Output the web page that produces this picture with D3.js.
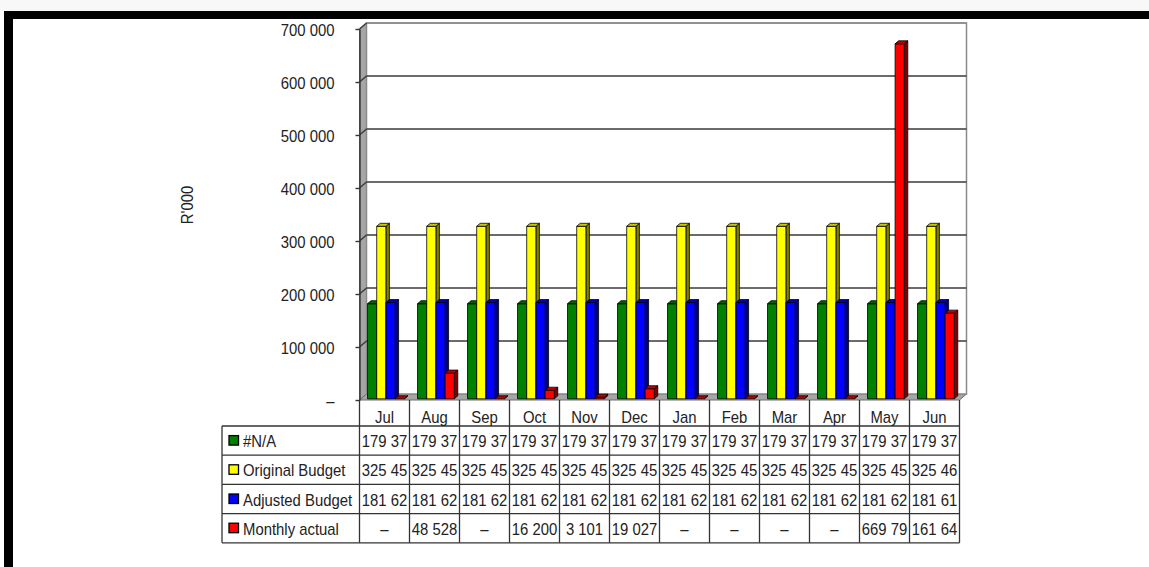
<!DOCTYPE html>
<html>
<head>
<meta charset="utf-8">
<script src="https://cdnjs.cloudflare.com/ajax/libs/d3/7.8.5/d3.min.js"></script>
<style>
  html, body { margin: 0; padding: 0; background: #ffffff; }
  svg { display: block; font-family: "Liberation Sans", Arial, sans-serif; }
</style>
</head>
<body>
<svg id="chart" width="1149" height="567"></svg>
<script>
// ---------- DATA ----------
const months = ["Jul", "Aug", "Sep", "Oct", "Nov", "Dec", "Jan", "Feb", "Mar", "Apr", "May", "Jun"];
const seriesNames = ["#N/A", "Original Budget", "Adjusted Budget", "Monthly actual"];

const naValues       = [179375, 179375, 179375, 179375, 179375, 179375, 179375, 179375, 179375, 179375, 179375, 179375];
const originalBudget = [325450, 325450, 325450, 325450, 325450, 325450, 325450, 325450, 325450, 325450, 325450, 325460];
const adjustedBudget = [181620, 181620, 181620, 181620, 181620, 181620, 181620, 181620, 181620, 181620, 181620, 181610];
const monthlyActual  = [0, 48528, 0, 16200, 3101, 19027, 0, 0, 0, 0, 669790, 161640];

// Text as shown in the data table
const naText       = ["179 37", "179 37", "179 37", "179 37", "179 37", "179 37", "179 37", "179 37", "179 37", "179 37", "179 37", "179 37"];
const originalText = ["325 45", "325 45", "325 45", "325 45", "325 45", "325 45", "325 45", "325 45", "325 45", "325 45", "325 45", "325 46"];
const adjustedText = ["181 62", "181 62", "181 62", "181 62", "181 62", "181 62", "181 62", "181 62", "181 62", "181 62", "181 62", "181 61"];
const actualText   = ["–", "48 528", "–", "16 200", "3 101", "19 027", "–", "–", "–", "–", "669 79", "161 64"];

const yTicks      = [0, 100000, 200000, 300000, 400000, 500000, 600000, 700000];
const yTickLabels = ["–", "100 000", "200 000", "300 000", "400 000", "500 000", "600 000", "700 000"];
const yAxisTitle  = "R'000";

// ---------- STYLE ----------
const colors = {
  front: ["#008000", "#ffff00", "#0000ff", "#ff0000"],
  top:   ["#006000", "#c8c800", "#0000c0", "#c00000"],
  side:  ["#004000", "#808000", "#000080", "#800000"]
};
const seriesValues = [naValues, originalBudget, adjustedBudget, monthlyActual];
const tableText = [naText, originalText, adjustedText, actualText];

const svg = d3.select("#chart");

// frame
svg.append("rect").attr("x", 0).attr("y", 0).attr("width", 1149).attr("height", 11).attr("fill", "#f8f8f8");
svg.append("rect").attr("x", 4).attr("y", 11).attr("width", 1145).attr("height", 8).attr("fill", "#000");
svg.append("rect").attr("x", 4).attr("y", 11).attr("width", 9).attr("height", 556).attr("fill", "#000");

// ---------- SCALES ----------
const x0 = d3.scaleBand().domain(months).range([359.5, 959.5]).paddingInner(0).paddingOuter(0);
const x1 = d3.scaleBand().domain(d3.range(seriesNames.length)).range([0, x0.bandwidth()])
  .paddingInner(0).paddingOuter(0.72);
const y = d3.scaleLinear().domain([0, 700000]).range([400, 29]);

const DX = 7, DY = -6;          // wall depth
const bF = 0.2, bB = 0.7;       // bar front/back depth fractions

const SX = 0.93;                // horizontal text compression
const textColor = "#222";

// ---------- WALLS ----------
const left = x0.range()[0], right = x0.range()[1];
const y0 = y(0), yTop = y(700000);

// left wall
svg.append("path")
  .attr("d", `M${left},${yTop} L${left + DX},${yTop + DY} L${left + DX},${y0 + DY} L${left},${y0} Z`)
  .attr("fill", "#a6a6a6").attr("stroke", "#6e6e6e").attr("stroke-width", 1);
// floor
svg.append("path")
  .attr("d", `M${left},${y0} L${left + DX},${y0 + DY} L${right + DX},${y0 + DY} L${right},${y0} Z`)
  .attr("fill", "#a6a6a6").attr("stroke", "#6e6e6e").attr("stroke-width", 1);
// back wall
svg.append("rect")
  .attr("x", left + DX).attr("y", yTop + DY)
  .attr("width", right - left).attr("height", y0 - yTop)
  .attr("fill", "#ffffff").attr("stroke", "#8a8a8a").attr("stroke-width", 1.5);

// gridlines
const grid = svg.append("g");
yTicks.filter(v => v > 0).forEach(v => {
  grid.append("line")
    .attr("x1", left + DX).attr("x2", right + DX)
    .attr("y1", y(v) + DY).attr("y2", y(v) + DY)
    .attr("stroke", v === 700000 ? "#8a8a8a" : "#3a3a3a").attr("stroke-width", 1.4);
  grid.append("line")
    .attr("x1", left).attr("x2", left + DX)
    .attr("y1", y(v)).attr("y2", y(v) + DY)
    .attr("stroke", "#3a3a3a").attr("stroke-width", 1.4);
});

// ---------- BARS ----------
const bars = svg.append("g");
months.forEach((m, i) => {
  seriesValues.forEach((vals, s) => {
    const v = vals[i];
    const xa = x0(m) + x1(s) + DX * bF;
    const xb = xa + x1.bandwidth();
    const base = y(0) + DY * bF;
    const topY = y(v) + DY * bF;
    const ddx = DX * (bB - bF), ddy = DY * (bB - bF);
    const g = bars.append("g").attr("stroke", "#000").attr("stroke-width", 0.8).attr("stroke-linejoin", "round");
    // side
    g.append("path")
      .attr("d", `M${xb},${base} L${xb + ddx},${base + ddy} L${xb + ddx},${topY + ddy} L${xb},${topY} Z`)
      .attr("fill", colors.side[s]);
    // front
    g.append("rect").attr("x", xa).attr("y", topY).attr("width", xb - xa).attr("height", base - topY)
      .attr("fill", colors.front[s]);
    // top
    g.append("path")
      .attr("d", `M${xa},${topY} L${xa + ddx},${topY + ddy} L${xb + ddx},${topY + ddy} L${xb},${topY} Z`)
      .attr("fill", colors.top[s]);
  });
});

// ---------- Y AXIS ----------
const axisG = svg.append("g").attr("transform", `translate(${left},0)`)
  .call(d3.axisLeft(y).tickValues(yTicks).tickSizeInner(4).tickSizeOuter(0)
    .tickPadding(25 / SX - 4)
    .tickFormat((d, i) => yTickLabels[i]));
axisG.select(".domain").attr("stroke", "#333").attr("stroke-width", 1.4);
axisG.selectAll(".tick line").attr("stroke", "#333").attr("stroke-width", 1.4);
axisG.selectAll(".tick text")
  .attr("font-size", 16).attr("fill", textColor)
  .attr("font-family", "'Liberation Sans', Arial, sans-serif")
  .attr("dy", "0.42em")
  .attr("transform", `scale(${SX},1)`);

// axis title
svg.append("text")
  .attr("transform", `translate(193,205) rotate(-90) scale(${SX},1)`)
  .attr("text-anchor", "middle")
  .attr("font-size", 16).attr("fill", textColor)
  .text(yAxisTitle);

// ---------- DATA TABLE ----------
const tbl = svg.append("g");
const rowTop = 426, rowH = 29.2, tableLeft = 222;
const nRows = seriesNames.length;
const tableBottom = rowTop + rowH * nRows;
const lineColor = "#333";

// header vertical separators
months.forEach((m, i) => {
  tbl.append("line").attr("x1", x0(m)).attr("x2", x0(m)).attr("y1", y0).attr("y2", tableBottom)
    .attr("stroke", lineColor).attr("stroke-width", 1.3);
});
tbl.append("line").attr("x1", right).attr("x2", right).attr("y1", y0).attr("y2", tableBottom)
  .attr("stroke", lineColor).attr("stroke-width", 1.3);
tbl.append("line").attr("x1", tableLeft).attr("x2", tableLeft).attr("y1", rowTop).attr("y2", tableBottom)
  .attr("stroke", lineColor).attr("stroke-width", 1.3);
for (let r = 0; r <= nRows; r++) {
  const yy = rowTop + rowH * r;
  tbl.append("line").attr("x1", tableLeft).attr("x2", right).attr("y1", yy).attr("y2", yy)
    .attr("stroke", lineColor).attr("stroke-width", 1.3);
}

// month headers
months.forEach(m => {
  tbl.append("text")
    .attr("transform", `translate(${x0(m) + x0.bandwidth() / 2},423) scale(${SX},1)`)
    .attr("text-anchor", "middle").attr("font-size", 16).attr("fill", textColor)
    .text(m);
});

// rows
seriesNames.forEach((name, r) => {
  const cy = rowTop + rowH * r + rowH / 2;
  tbl.append("rect").attr("x", 229).attr("y", cy - 5).attr("width", 9.5).attr("height", 9.5)
    .attr("fill", colors.front[r]).attr("stroke", "#000").attr("stroke-width", 1.3);
  tbl.append("text")
    .attr("transform", `translate(243,${cy + 6.5}) scale(${SX},1)`)
    .attr("font-size", 16).attr("fill", textColor)
    .text(name);
  months.forEach((m, i) => {
    tbl.append("text")
      .attr("transform", `translate(${x0(m) + x0.bandwidth() / 2},${cy + 6.5}) scale(${SX},1)`)
      .attr("text-anchor", "middle").attr("font-size", 16).attr("fill", textColor)
      .text(tableText[r][i]);
  });
});
</script>
</body>
</html>
